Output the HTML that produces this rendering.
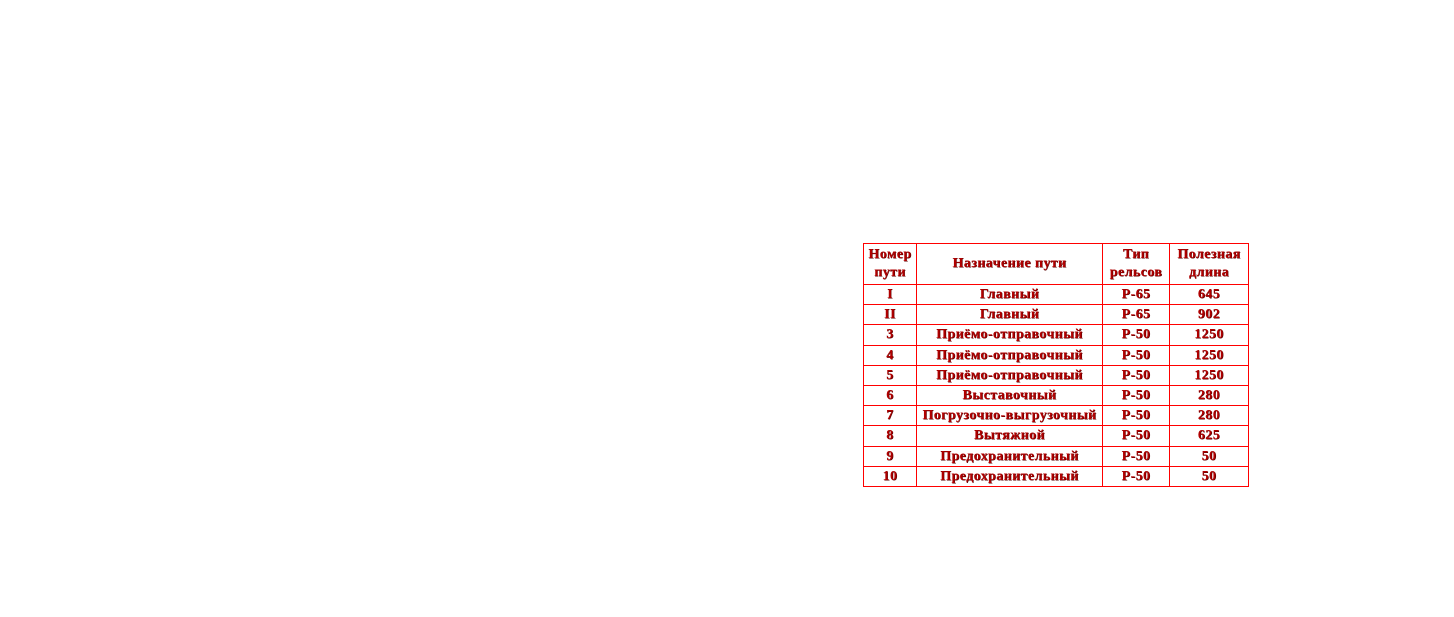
<!DOCTYPE html>
<html><head><meta charset="utf-8"><style>
body{margin:0;width:1454px;height:617px;background:#fff;position:relative;overflow:hidden}
table{position:absolute;left:863px;top:243px;border-collapse:collapse;font-family:"Liberation Serif",serif;font-weight:bold;font-size:14px;letter-spacing:0.4px;color:#b00000;text-shadow:0.6px 0.6px 0 #500}
td{border:1px solid #f00;text-align:center;padding:0;line-height:17px;height:19.2px}
tr.h td{height:40px;line-height:18px}
</style></head><body>
<table>
<colgroup><col style="width:53px"><col style="width:186px"><col style="width:67px"><col style="width:79px"></colgroup>
<tr class="h"><td>Номер<br>пути</td><td>Назначение пути</td><td>Тип<br>рельсов</td><td>Полезная<br>длина</td></tr>
<tr><td>I</td><td>Главный</td><td>Р-65</td><td>645</td></tr>
<tr><td>II</td><td>Главный</td><td>Р-65</td><td>902</td></tr>
<tr><td>3</td><td>Приёмо-отправочный</td><td>Р-50</td><td>1250</td></tr>
<tr><td>4</td><td>Приёмо-отправочный</td><td>Р-50</td><td>1250</td></tr>
<tr><td>5</td><td>Приёмо-отправочный</td><td>Р-50</td><td>1250</td></tr>
<tr><td>6</td><td>Выставочный</td><td>Р-50</td><td>280</td></tr>
<tr><td>7</td><td>Погрузочно-выгрузочный</td><td>Р-50</td><td>280</td></tr>
<tr><td>8</td><td>Вытяжной</td><td>Р-50</td><td>625</td></tr>
<tr><td>9</td><td>Предохранительный</td><td>Р-50</td><td>50</td></tr>
<tr><td>10</td><td>Предохранительный</td><td>Р-50</td><td>50</td></tr>
</table>
</body></html>
